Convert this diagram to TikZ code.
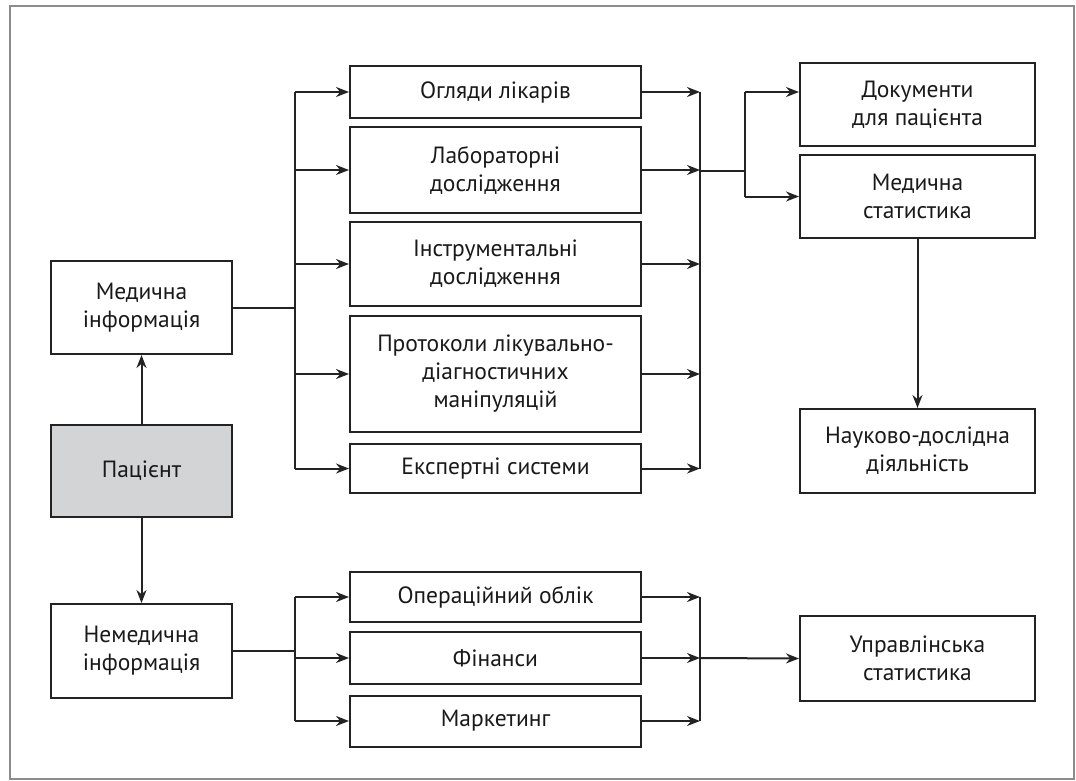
\documentclass[tikz,border=0pt]{standalone}
\usepackage{fontspec}
\setmainfont{PT Sans}
\usetikzlibrary{arrows.meta}
\definecolor{linec}{RGB}{35,35,35}
\definecolor{framec}{RGB}{140,140,140}
\definecolor{patgray}{RGB}{211,212,214}
\definecolor{txtc}{RGB}{25,25,25}
\begin{document}
\begin{tikzpicture}[x=1pt,y=-1pt,
  box/.style={draw=linec,line width=2pt,rectangle,align=center,inner sep=0pt,
    text=txtc,font=\fontsize{23.5}{28}\selectfont},
  midbox/.style={box,minimum width=291pt},
  rbox/.style={box,minimum width=235pt},
  lbox/.style={box,minimum width=181pt},
  conn/.style={draw=linec,line width=2pt},
  arr/.style={conn,-{Stealth[length=13pt,width=10pt]}}]
\useasboundingbox (0,0) rectangle (1076,780);
\draw[framec,line width=2.5pt] (10,6) rectangle (1074,779);
% middle boxes
\node[midbox,minimum height=52pt] (ogl) at (495.5,92) {Огляди лікарів};
\node[midbox,minimum height=86pt] (lab) at (495.5,170) {Лабораторні\\дослідження};
\node[midbox,minimum height=84pt] (ins) at (495.5,264) {Інструментальні\\дослідження};
\node[midbox,minimum height=116pt] (pro) at (495.5,374) {Протоколи лікувально-\\діагностичних\\маніпуляцій};
\node[midbox,minimum height=49pt] (exs) at (495.5,468.5) {Експертні системи};
\node[midbox,minimum height=50pt] (ope) at (495.5,597) {Операційний облік};
\node[midbox,minimum height=52pt] (fin) at (495.5,658) {Фінанси};
\node[midbox,minimum height=51pt] (mar) at (495.5,721) {Маркетинг};
% left boxes
\node[lbox,minimum height=93pt] (med) at (141.5,307.5) {Медична\\інформація};
\node[lbox,minimum height=92pt,fill=patgray] (pat) at (141.5,471) {Пацієнт};
\node[lbox,minimum height=94pt] (nem) at (141.5,651) {Немедична\\інформація};
% right boxes
\node[rbox,minimum height=83pt] (doc) at (917.5,104.5) {Документи\\для пацієнта};
\node[rbox,minimum height=83pt] (mst) at (917.5,196.5) {Медична\\статистика};
\node[rbox,minimum height=84pt] (nau) at (917.5,451) {Науково-дослідна\\діяльність};
\node[rbox,minimum height=85pt] (upr) at (917.5,658.5) {Управлінська\\статистика};
% coordinates
\coordinate (lb) at (295,307.5);
\coordinate (lb2) at (295,651);
\coordinate (rbt) at (700,92);
\coordinate (rbb) at (700,468.5);
\coordinate (rbm) at (700,171);
\coordinate (sp) at (745,171);
\coordinate (rb2t) at (700,597);
\coordinate (rb2b) at (700,721);
\coordinate (rb2m) at (700,658);
% patient links
\draw[arr] (pat.north) -- (med.south);
\draw[arr] (pat.south) -- (nem.north);
% left bus (medical)
\draw[conn] (med.east) -- (lb);
\draw[conn] (lb |- ogl) -- (lb |- exs);
\foreach \n in {ogl,lab,ins,pro,exs} \draw[arr] (lb |- \n) -- (\n.west);
% right bus (medical)
\foreach \n in {ogl,lab,ins,pro,exs} \draw[arr] (\n.east) -- (rbt |- \n);
\draw[conn] (rbt) -- (rbb);
\draw[conn] (rbm) -- (sp);
\draw[conn] (sp |- ogl) -- (sp |- mst);
\draw[arr] (sp |- ogl) -- (doc.west |- ogl);
\draw[arr] (sp |- mst) -- (mst.west);
\draw[arr] (mst.south) -- (nau.north);
% non-medical
\draw[conn] (nem.east) -- (lb2);
\draw[conn] (lb2 |- ope) -- (lb2 |- mar);
\foreach \n in {ope,mar} \draw[arr] (lb2 |- \n) -- (\n.west);
\draw[arr] (lb2 |- fin) -- (fin.west);
\foreach \n in {ope,fin,mar} \draw[arr] (\n.east) -- (rb2t |- \n);
\draw[conn] (rb2t) -- (rb2b);
\draw[arr] (rb2m) -- (upr.west);
\end{tikzpicture}
\end{document}
